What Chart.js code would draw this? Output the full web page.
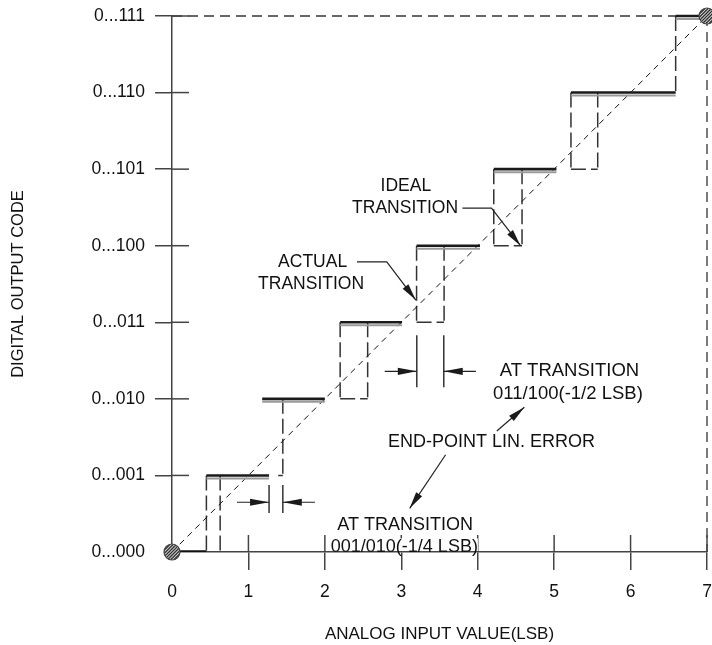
<!DOCTYPE html>
<html>
<head>
<meta charset="utf-8">
<script src="https://cdn.jsdelivr.net/npm/chart.js@4.4.0/dist/chart.umd.min.js"></script>
<style>
  html, body { margin: 0; padding: 0; background: #fff; overflow: hidden; }
  canvas { display: block; }
</style>
</head>
<body>
<canvas id="adc" width="716" height="645"></canvas>
<script>
// Output codes (y axis) and analog input ticks (x axis, in LSB)
const codeLabels = ['0...000', '0...001', '0...010', '0...011', '0...100', '0...101', '0...110', '0...111'];
const inputLabels = ['0', '1', '2', '3', '4', '5', '6', '7'];

// Flat part of each output code on the actual transfer curve (LSB)
const codeStart = [0.00, 0.45, 1.18, 2.20, 3.20, 4.21, 5.22, 6.59];
const codeEnd   = [0.45, 1.27, 2.00, 3.01, 4.03, 5.03, 6.59, 7.00];

// Dashed transition window into code k (entry k-1): left edge, right edge, start of bottom edge
const edgeLeft  = [0.45, null, 2.20, 3.20, 4.21, 5.22, 6.59];
const edgeRight = [0.63, 1.45, 2.56, 3.56, 4.58, 5.57, null];
const footStart = [null, 1.39, 2.20, 3.20, 4.21, 5.22, null];

// End points of the straight end-point line
const endPointX = [0, 7];
const endPointY = [0, 7];

// Text notes, leader arrows and dimension marks, in LSB / code units
const notes = [
  { text: 'IDEAL',                x: 3.06, y: 4.78, size: 17.5 },
  { text: 'TRANSITION',           x: 3.05, y: 4.49, size: 17.5 },
  { text: 'ACTUAL',               x: 1.84, y: 3.79, size: 17.5 },
  { text: 'TRANSITION',           x: 1.82, y: 3.50, size: 17.5 },
  { text: 'AT TRANSITION',        x: 5.20, y: 2.36, size: 18.5 },
  { text: '011/100(-1/2 LSB)',    x: 5.18, y: 2.07, size: 18.5 },
  { text: 'END-POINT LIN. ERROR', x: 4.18, y: 1.44, size: 18 },
  { text: 'AT TRANSITION',        x: 3.05, y: 0.35, size: 18 },
  { text: '001/010(-1/4 LSB)',    x: 3.04, y: 0.06, size: 18, mask: true }
];
const leaders = [
  [[3.80, 4.49], [4.18, 4.49], [4.56, 4.00]],
  [[2.42, 3.79], [2.81, 3.79], [3.19, 3.29]],
  [[4.25, 1.58], [4.61, 1.89]],
  [[3.58, 1.27], [3.11, 0.57]]
];
const dims = [
  { x1: 1.27,  x2: 1.45,  yTop: 0.875, yBot: 0.51, yArrow: 0.65, tail: 0.42 },
  { x1: 3.203, x2: 3.556, yTop: 2.83,  yBot: 2.15, yArrow: 2.36, tail: 0.42 }
];

// ---- build line data from the arrays above ----
function joinSegments(list) {
  const out = [];
  list.forEach((seg, i) => {
    if (i) out.push({ x: seg[0].x, y: null });
    out.push(...seg);
  });
  return out;
}

const levelSegs = [];
for (let k = 1; k < codeStart.length; k++) {
  levelSegs.push([{ x: codeStart[k], y: k }, { x: codeEnd[k], y: k }]);
}
const zeroLevel = [{ x: codeStart[0], y: 0 }, { x: codeEnd[0], y: 0 }];

const edgeSegs = [];
for (let i = 0; i < edgeLeft.length; i++) {
  const k = i + 1;
  if (edgeLeft[i] !== null) edgeSegs.push([{ x: edgeLeft[i], y: k }, { x: edgeLeft[i], y: k - 1 }]);
  if (edgeRight[i] !== null) edgeSegs.push([{ x: edgeRight[i], y: k }, { x: edgeRight[i], y: k - 1 }]);
  if (footStart[i] !== null) edgeSegs.push([{ x: footStart[i], y: k - 1 }, { x: edgeRight[i], y: k - 1 }]);
}

const endPoints = endPointX.map((x, i) => ({ x, y: endPointY[i] }));
const frameSegs = [
  [{ x: endPointX[0], y: endPointY[1] }, { x: endPointX[1], y: endPointY[1] }],
  [{ x: endPointX[1], y: endPointY[1] }, { x: endPointX[1], y: endPointY[0] }]
];

// hatched round marker for the end points
function hatchedDot(r) {
  const s = 2 * r + 4;
  const c = document.createElement('canvas');
  c.width = c.height = s;
  const g = c.getContext('2d');
  g.translate(s / 2, s / 2);
  g.beginPath();
  g.arc(0, 0, r, 0, Math.PI * 2);
  g.fillStyle = '#cfcfcf';
  g.fill();
  g.save();
  g.clip();
  g.strokeStyle = '#2a2a2a';
  g.lineWidth = 1.2;
  for (let d = -2 * r; d <= 2 * r; d += 3.2) {
    g.beginPath();
    g.moveTo(d - r, r);
    g.lineTo(d + r, -r);
    g.stroke();
  }
  g.restore();
  g.beginPath();
  g.arc(0, 0, r, 0, Math.PI * 2);
  g.lineWidth = 1.2;
  g.strokeStyle = '#444';
  g.stroke();
  return c;
}

const FONT = '"Liberation Sans", Arial, sans-serif';
Chart.defaults.font.family = FONT;
Chart.defaults.font.size = 17.5;
Chart.defaults.color = '#111';

// draws the second, lighter rule of each code level a few pixels lower
const shadowShift = {
  id: 'shadowShift',
  beforeDatasetDraw(chart, args, opts) {
    if (chart.data.datasets[args.index].label === opts.label) {
      chart.ctx.save();
      chart.ctx.translate(0, opts.dy);
    }
  },
  afterDatasetDraw(chart, args, opts) {
    if (chart.data.datasets[args.index].label === opts.label) chart.ctx.restore();
  }
};

// inner half of the axis ticks (the outer half is the scale's own tick mark)
const innerTicks = {
  id: 'innerTicks',
  afterDraw(chart, args, opts) {
    const { ctx, chartArea, scales } = chart;
    ctx.save();
    ctx.strokeStyle = opts.color;
    ctx.lineWidth = opts.width;
    scales.y.ticks.forEach(t => {
      if (t.value === 0) return;
      const py = scales.y.getPixelForValue(t.value);
      ctx.beginPath();
      ctx.moveTo(chartArea.left, py);
      ctx.lineTo(chartArea.left + opts.yLen, py);
      ctx.stroke();
    });
    scales.x.ticks.forEach(t => {
      if (t.value === 0) return;
      const px = scales.x.getPixelForValue(t.value);
      ctx.beginPath();
      ctx.moveTo(px, chartArea.bottom);
      ctx.lineTo(px, chartArea.bottom - opts.xLen);
      ctx.stroke();
    });
    ctx.restore();
  }
};

function arrowHead(ctx, fx, fy, tx, ty, len, half) {
  const a = Math.atan2(ty - fy, tx - fx);
  const bx = tx - Math.cos(a) * len, by = ty - Math.sin(a) * len;
  ctx.beginPath();
  ctx.moveTo(tx, ty);
  ctx.lineTo(bx + Math.sin(a) * half, by - Math.cos(a) * half);
  ctx.lineTo(bx - Math.sin(a) * half, by + Math.cos(a) * half);
  ctx.closePath();
  ctx.fill();
}

// text notes, leader arrows and dimension marks
const callouts = {
  id: 'callouts',
  afterDraw(chart) {
    const { ctx, scales, chartArea } = chart;
    const X = v => scales.x.getPixelForValue(v);
    const Y = v => scales.y.getPixelForValue(v);
    ctx.save();
    ctx.strokeStyle = '#222';
    ctx.fillStyle = '#1a1a1a';
    ctx.lineWidth = 1.2;
    leaders.forEach(pts => {
      ctx.beginPath();
      pts.forEach((p, i) => i ? ctx.lineTo(X(p[0]), Y(p[1])) : ctx.moveTo(X(p[0]), Y(p[1])));
      ctx.stroke();
      const a = pts[pts.length - 2], b = pts[pts.length - 1];
      arrowHead(ctx, X(a[0]), Y(a[1]), X(b[0]), Y(b[1]), 17, 3.6);
    });
    dims.forEach(d => {
      ctx.lineWidth = 1.5;
      ctx.strokeStyle = '#333';
      [d.x1, d.x2].forEach(x => {
        ctx.beginPath();
        ctx.moveTo(X(x), Y(d.yTop));
        ctx.lineTo(X(x), Y(d.yBot));
        ctx.stroke();
      });
      ctx.lineWidth = 1.2;
      ctx.strokeStyle = '#222';
      const ya = Y(d.yArrow);
      ctx.beginPath();
      ctx.moveTo(X(d.x1 - d.tail), ya); ctx.lineTo(X(d.x1), ya);
      ctx.moveTo(X(d.x2 + d.tail), ya); ctx.lineTo(X(d.x2), ya);
      ctx.stroke();
      arrowHead(ctx, X(d.x1 - d.tail), ya, X(d.x1), ya, 19, 3.6);
      arrowHead(ctx, X(d.x2 + d.tail), ya, X(d.x2), ya, 19, 3.6);
    });
    ctx.textBaseline = 'middle';
    ctx.textAlign = 'center';
    notes.forEach(n => {
      ctx.font = n.size + 'px ' + FONT;
      const px = X(n.x), py = Y(n.y);
      if (n.mask) {
        // keep the text legible where it sits on the axis ticks
        const w = ctx.measureText(n.text).width;
        ctx.fillStyle = '#fff';
        ctx.fillRect(px - w / 2, py - 9, w, Math.min(18, chartArea.bottom - 1 - (py - 9)));
      }
      ctx.fillStyle = '#111';
      ctx.fillText(n.text, px, py);
    });
    ctx.restore();
  }
};

const tickColor = c => (c.tick && c.tick.value === 0) ? 'rgba(0,0,0,0)' : '#444';

new Chart(document.getElementById('adc'), {
  type: 'scatter',
  data: {
    datasets: [
      { label: 'end points', data: endPoints, showLine: false, pointStyle: hatchedDot(8),
        pointRadius: 8, clip: false, order: 0 },
      { label: 'code 000', data: zeroLevel, showLine: true, borderColor: '#111', borderWidth: 3.5,
        pointRadius: 0, order: 1 },
      { label: 'code levels', data: joinSegments(levelSegs), showLine: true, borderColor: '#1a1a1a',
        borderWidth: 2.6, pointRadius: 0, spanGaps: false, clip: false, order: 2 },
      { label: 'code levels shade', data: joinSegments(levelSegs), showLine: true, borderColor: '#9a9a9a',
        borderWidth: 2, pointRadius: 0, spanGaps: false, clip: false, order: 3 },
      { label: 'end-point line', data: endPoints, showLine: true, borderColor: '#111', borderWidth: 1,
        borderDash: [6, 5], pointRadius: 0, order: 4 },
      { label: 'transitions', data: joinSegments(edgeSegs), showLine: true, borderColor: '#333',
        borderWidth: 1.5, borderDash: [15, 5], pointRadius: 0, spanGaps: false, order: 5 },
      { label: 'full scale', data: joinSegments(frameSegs), showLine: true, borderColor: '#333',
        borderWidth: 1.3, borderDash: [10, 6], pointRadius: 0, spanGaps: false, clip: false, order: 6 }
    ]
  },
  options: {
    responsive: false,
    animation: false,
    events: [],
    layout: { padding: { top: 16, right: 0, left: 0, bottom: 0 } },
    plugins: {
      legend: { display: false },
      tooltip: { enabled: false },
      shadowShift: { label: 'code levels shade', dy: 3 },
      innerTicks: { color: '#444', width: 1.5, yLen: 17, xLen: 17 }
    },
    scales: {
      x: {
        type: 'linear', min: 0, max: 7,
        afterFit(s) { s.height = 93; s.paddingLeft = 0; s.paddingRight = 0; },
        ticks: { stepSize: 1, padding: 12, callback: v => inputLabels[v] ?? '' },
        grid: { drawOnChartArea: false, tickLength: 18, lineWidth: 1.5, color: tickColor },
        border: { color: '#444', width: 1.5 },
        title: { display: true, text: 'ANALOG INPUT VALUE(LSB)', padding: { top: 0, bottom: 0 },
                 font: { size: 17 }, color: '#111' }
      },
      y: {
        type: 'linear', min: 0, max: 7,
        afterFit(s) { s.width = 172; s.paddingTop = 0; s.paddingBottom = 0; },
        ticks: { stepSize: 1, padding: 10, callback: v => codeLabels[v] ?? '' },
        grid: { drawOnChartArea: false, tickLength: 17, lineWidth: 1.5, color: tickColor },
        border: { color: '#444', width: 1.5 },
        title: { display: true, text: 'DIGITAL OUTPUT CODE', padding: { top: 8.4, bottom: 0 },
                 font: { size: 16.5 }, color: '#111' }
      }
    }
  },
  plugins: [shadowShift, innerTicks, callouts]
});
</script>
</body>
</html>
